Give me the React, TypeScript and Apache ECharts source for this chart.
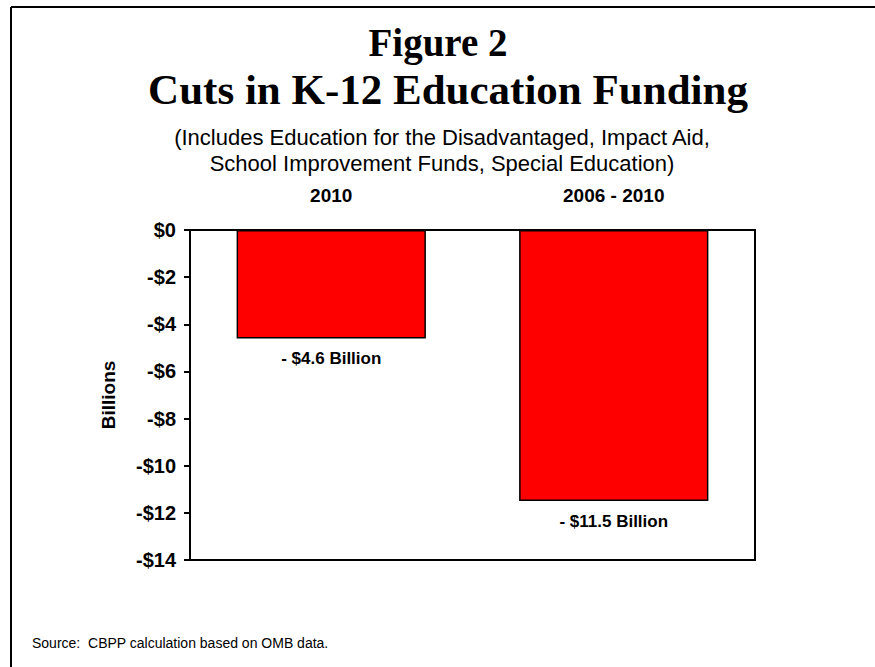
import React, { useEffect, useRef } from "react";
import * as echarts from "echarts";

const categories = ["2010", "2006 - 2010"];
const values = [-4.6, -11.5];
const barLabels = ["- $4.6 Billion", "- $11.5 Billion"];
const yMin = -14;
const yMax = 0;
const yInterval = 2;

export default function App() {
  const ref = useRef<HTMLDivElement>(null);
  useEffect(() => {
    if (!ref.current) return;
    const chart = echarts.init(ref.current, null, { renderer: "svg" });
    const sans = "Arial, 'Liberation Sans', sans-serif";
    const serif = "'Times New Roman', 'Liberation Serif', serif";
    chart.setOption({
      animation: false,
      backgroundColor: "#ffffff",
      grid: {
        left: 190,
        right: 120,
        top: 230,
        bottom: 107,
        show: true,
        borderColor: "#000",
        borderWidth: 2,
        backgroundColor: "transparent",
      },
      xAxis: {
        type: "category",
        position: "top",
        data: categories,
        axisLine: { show: true, lineStyle: { color: "#000", width: 2 } },
        axisTick: { show: false },
        axisLabel: {
          color: "#000",
          fontFamily: sans,
          fontWeight: "bold",
          fontSize: 19,
          margin: 25,
        },
        splitLine: { show: false },
      },
      yAxis: {
        type: "value",
        min: yMin,
        max: yMax,
        interval: yInterval,
        name: "Billions",
        nameLocation: "middle",
        nameGap: 72,
        nameRotate: 90,
        nameTextStyle: {
          color: "#000",
          fontFamily: sans,
          fontWeight: "bold",
          fontSize: 19,
        },
        axisLine: { show: true, lineStyle: { color: "#000", width: 2 } },
        axisTick: { show: true, length: 6, lineStyle: { color: "#000", width: 2 } },
        axisLabel: {
          color: "#000",
          fontFamily: sans,
          fontWeight: "bold",
          fontSize: 20,
          margin: 14,
          formatter: (v: number) => (v === 0 ? "$0" : "-$" + Math.abs(v)),
        },
        splitLine: { show: false },
      },
      series: [
        {
          type: "bar",
          data: values,
          barCategoryGap: "33%",
          itemStyle: { color: "#ff0000", borderColor: "#000", borderWidth: 1.5 },
          label: {
            show: true,
            position: "bottom",
            distance: 12,
            color: "#000",
            fontFamily: sans,
            fontWeight: "bold",
            fontSize: 17,
            formatter: (p: any) => barLabels[p.dataIndex],
          },
        },
      ],
      graphic: [
        {
          type: "line",
          shape: { x1: 11, y1: 7, x2: 875, y2: 7 },
          style: { stroke: "#000", lineWidth: 2 },
        },
        {
          type: "line",
          shape: { x1: 11, y1: 7, x2: 11, y2: 667 },
          style: { stroke: "#000", lineWidth: 2 },
        },
        {
          type: "text",
          x: 438,
          y: 42,
          style: {
            text: "Figure 2",
            textAlign: "center",
            textVerticalAlign: "middle",
            fontFamily: serif,
            fontWeight: "bold",
            fontSize: 39,
            fill: "#000",
          },
        },
        {
          type: "text",
          x: 448,
          y: 89,
          style: {
            text: "Cuts in K-12 Education Funding",
            textAlign: "center",
            textVerticalAlign: "middle",
            fontFamily: serif,
            fontWeight: "bold",
            fontSize: 43,
            fill: "#000",
          },
        },
        {
          type: "text",
          x: 442,
          y: 137,
          style: {
            text: "(Includes Education for the Disadvantaged, Impact Aid,",
            textAlign: "center",
            textVerticalAlign: "middle",
            fontFamily: sans,
            fontSize: 22,
            fill: "#000",
          },
        },
        {
          type: "text",
          x: 442,
          y: 163,
          style: {
            text: "School Improvement Funds, Special Education)",
            textAlign: "center",
            textVerticalAlign: "middle",
            fontFamily: sans,
            fontSize: 22,
            fill: "#000",
          },
        },
        {
          type: "text",
          x: 32,
          y: 643,
          style: {
            text: "Source:  CBPP calculation based on OMB data.",
            textAlign: "left",
            textVerticalAlign: "middle",
            fontFamily: sans,
            fontSize: 14,
            fill: "#000",
          },
        },
      ],
    });
    return () => chart.dispose();
  }, []);
  return (
    <div
      ref={ref}
      style={{ position: "absolute", left: 0, top: 0, width: 875, height: 667 }}
    />
  );
}
